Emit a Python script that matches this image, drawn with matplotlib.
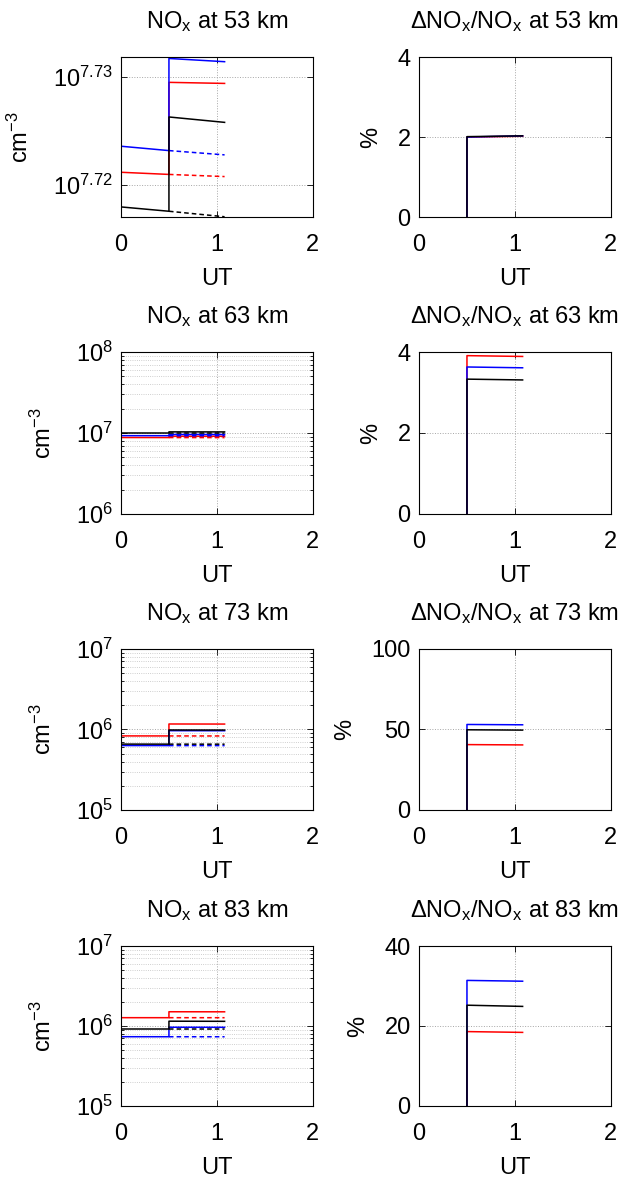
import matplotlib

matplotlib.use("Agg")
import matplotlib.pyplot as plt
from matplotlib.ticker import FixedLocator, NullFormatter, NullLocator

plt.rcParams["font.family"] = ["Liberation Sans", "DejaVu Sans"]
plt.rcParams["mathtext.fontset"] = "custom"
plt.rcParams["mathtext.rm"] = "Liberation Sans"
plt.rcParams["mathtext.it"] = "Liberation Sans"
plt.rcParams["mathtext.default"] = "regular"

altitudes = [53, 63, 73, 83]
colors = ["red", "blue", "black"]
t_base = [0.0, 0.5, 1.08]
t_pert = [0.5, 1.08]

# baseline NOx (cm^-3) at t_base; one list per colour: red, blue, black
base_53 = [[5.2626e7, 5.2602e7, 5.2578e7], [5.2918e7, 5.2869e7, 5.2821e7], [5.2240e7, 5.2192e7, 5.2131e7]]
base_63 = [[8.79e6, 8.78e6, 8.77e6], [9.268e6, 9.26e6, 9.25e6], [1.000e7, 0.999e7, 0.998e7]]
base_73 = [[8.318e5, 8.31e5, 8.30e5], [6.31e5, 6.305e5, 6.30e5], [6.577e5, 6.57e5, 6.565e5]]
base_83 = [[1.2706e6, 1.270e6, 1.2695e6], [7.345e5, 7.34e5, 7.335e5], [9.173e5, 9.17e5, 9.165e5]]

# perturbed NOx (cm^-3) at t_pert
pert_53 = [[5.3641e7, 5.3629e7], [5.3914e7, 5.3877e7], [5.3248e7, 5.3187e7]]
pert_63 = [[9.123e6, 9.111e6], [9.596e6, 9.584e6], [1.0323e7, 1.0310e7]]
pert_73 = [[1.1695e6, 1.1670e6], [9.66e5, 9.64e5], [9.852e5, 9.83e5]]
pert_83 = [[1.507e6, 1.504e6], [9.65e5, 9.63e5], [1.1485e6, 1.144e6]]

# relative change (%) at t_pert
ratio_53 = [[2.00, 2.02], [2.00, 2.03], [2.01, 2.03]]
ratio_63 = [[3.91, 3.89], [3.63, 3.61], [3.33, 3.31]]
ratio_73 = [[40.6, 40.4], [53.1, 52.9], [49.8, 49.6]]
ratio_83 = [[18.6, 18.4], [31.4, 31.2], [25.2, 24.9]]

bases = [base_53, base_63, base_73, base_83]
perts = [pert_53, pert_63, pert_73, pert_83]
ratios = [ratio_53, ratio_63, ratio_73, ratio_83]

nox_ylims = [(5.2128e7, 5.3930e7), (1e6, 1e8), (1e5, 1e7), (1e5, 1e7)]
pct_ylims = [(0, 4), (0, 4), (0, 100), (0, 40)]
pct_ticks = [[0, 2, 4], [0, 2, 4], [0, 50, 100], [0, 20, 40]]

FS = 17
fig = plt.figure(figsize=(6.21, 11.84), dpi=100)

rows_bottom = [0.8167, 0.5659, 0.3159, 0.0659]
rows_height = [0.1351, 0.1368, 0.1360, 0.1351]


def style_axis(ax):
    ax.set_xlim(0, 2)
    ax.set_xticks([0, 1, 2])
    ax.tick_params(which="both", direction="in", top=True, right=True, width=0.6, labelsize=FS)
    ax.tick_params(which="major", length=4)
    ax.tick_params(which="minor", length=2)
    ax.tick_params(axis="x", pad=12)
    ax.tick_params(axis="y", pad=6)
    for s in ax.spines.values():
        s.set_linewidth(0.8)
    ax.grid(True, which="major", ls=":", color="0.65", lw=0.7)
    ax.set_xlabel("UT", fontsize=FS, labelpad=9)


for i, alt in enumerate(altitudes):
    ax = fig.add_axes([0.1948, rows_bottom[i], 0.309, rows_height[i]])
    ax.set_yscale("log")
    for c, b, p in zip(colors, bases[i], perts[i]):
        ax.plot(t_base[1:], b[1:], color=c, lw=1.1, ls=(0, (3, 2)))
        ax.plot(t_base[:2] + t_pert, b[:2] + p, color=c, lw=1.1)
    ax.set_ylim(*nox_ylims[i])
    style_axis(ax)
    if i == 0:
        ax.yaxis.set_major_locator(FixedLocator([10 ** 7.72, 10 ** 7.73]))
        ax.set_yticklabels(["$10^{7.72}$", "$10^{7.73}$"])
        ax.yaxis.set_minor_locator(NullLocator())
    else:
        ax.yaxis.set_minor_formatter(NullFormatter())
        ax.yaxis.grid(True, which="minor", ls=":", color="0.75", lw=0.6)
    ax.set_ylabel("cm$^{-3}$", fontsize=FS, labelpad=14)
    ax.set_title(f"NO$_x$ at {alt} km", fontsize=FS, pad=21)

    ax2 = fig.add_axes([0.6747, rows_bottom[i], 0.309, rows_height[i]])
    for c, r in zip(colors, ratios[i]):
        ax2.plot(t_pert[:1] + t_pert, [0] + r, color=c, lw=1.1)
    ax2.set_ylim(*pct_ylims[i])
    ax2.set_yticks(pct_ticks[i])
    style_axis(ax2)
    ax2.set_ylabel("%", fontsize=FS, labelpad=11)
    ax2.set_title(f"ΔNO$_x$/NO$_x$ at {alt} km", fontsize=FS, pad=21)

fig.savefig("out.png", dpi=100)
